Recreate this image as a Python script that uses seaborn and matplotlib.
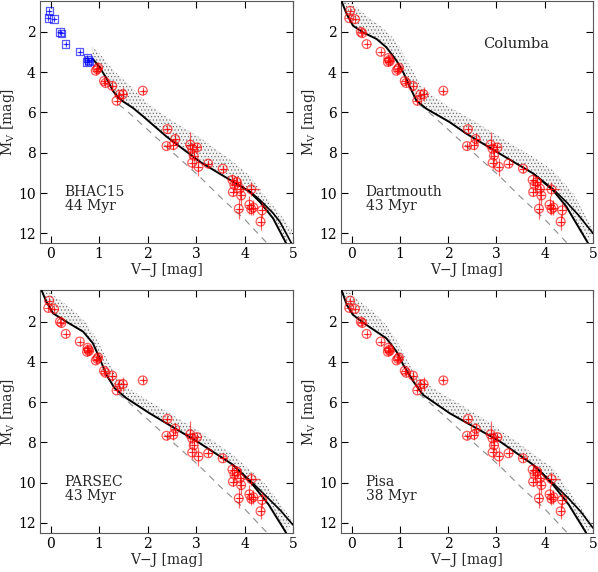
import numpy as np
import seaborn as sns
import matplotlib
matplotlib.use("Agg")
import matplotlib.pyplot as plt

# observed Columba members: V-J, M_V and errors
star_vj = [-0.03, -0.05, 0.07, 0.19, 0.22, 0.31, 0.60, 0.76, 0.78, 0.75, 0.79,
           0.93, 0.98, 0.96, 1.10, 1.13, 1.27, 1.36, 1.42, 1.49, 1.90,
           2.41, 2.39, 2.53, 2.57, 2.88, 2.92, 2.95, 2.92, 3.02, 3.05, 3.25, 3.55,
           3.75, 3.79, 3.84, 3.76, 3.90, 3.93, 3.88, 4.14, 4.10, 4.14, 4.18, 4.36, 4.33]
star_mv = [0.96, 1.32, 1.37, 2.00, 2.07, 2.61, 2.99, 3.30, 3.40, 3.50, 3.46,
           3.93, 3.78, 3.85, 4.44, 4.54, 4.68, 5.42, 5.12, 5.10, 4.92,
           6.83, 7.67, 7.62, 7.32, 7.60, 7.80, 8.14, 8.50, 7.74, 8.70, 8.54, 8.79,
           9.35, 9.60, 9.45, 9.95, 9.78, 10.12, 10.78, 9.82, 10.58, 10.80, 10.72, 10.86, 11.42]
star_xerr = [0.03, 0.03, 0.03, 0.03, 0.03, 0.03, 0.03, 0.03, 0.03, 0.03, 0.03,
             0.04, 0.04, 0.04, 0.04, 0.04, 0.05, 0.04, 0.05, 0.08, 0.04,
             0.05, 0.05, 0.05, 0.06, 0.10, 0.05, 0.05, 0.05, 0.05, 0.05, 0.08, 0.06,
             0.06, 0.06, 0.06, 0.06, 0.06, 0.06, 0.06, 0.18, 0.08, 0.06, 0.06, 0.06, 0.06]
star_yerr = [0.05, 0.05, 0.05, 0.05, 0.05, 0.05, 0.05, 0.08, 0.08, 0.08, 0.08,
             0.10, 0.10, 0.10, 0.10, 0.10, 0.25, 0.10, 0.20, 0.35, 0.10,
             0.10, 0.10, 0.25, 0.30, 0.65, 0.30, 0.30, 0.30, 0.15, 0.45, 0.15, 0.15,
             0.30, 0.40, 0.30, 0.20, 0.50, 0.45, 0.50, 0.35, 0.45, 0.30, 0.35, 0.40, 0.40]

# dashed reference sequence
ref_vj = [1.40, 1.56, 2.00, 2.50, 3.08, 3.50, 4.00, 4.47]
ref_mv = [5.60, 5.90, 6.85, 7.95, 9.20, 10.20, 11.30, 12.50]

models = ["BHAC15", "Dartmouth", "PARSEC", "Pisa"]
ages = ["44 Myr", "43 Myr", "43 Myr", "38 Myr"]

# isochrone (lower edge of the binary band)
iso_vj = {
    "BHAC15": [0.87, 1.01, 1.15, 1.29, 1.39, 1.49, 1.70, 1.91, 2.39, 3.08, 3.77, 4.11, 4.32, 4.59, 4.86],
    "Dartmouth": [-0.21, -0.10, 0.03, 0.24, 0.52, 0.72, 0.93, 1.07, 1.21, 1.34, 1.55, 2.03, 2.38, 3.07, 3.76, 4.17, 4.45, 4.90],
    "PARSEC": [-0.19, -0.09, 0.05, 0.32, 0.67, 0.87, 1.01, 1.15, 1.32, 1.56, 2.04, 3.07, 3.76, 4.17, 4.50, 4.86],
    "Pisa": [-0.21, -0.10, 0.03, 0.31, 0.72, 0.93, 1.07, 1.28, 1.48, 2.03, 3.07, 3.76, 4.17, 4.50, 4.86],
}
iso_mv = {
    "BHAC15": [3.35, 3.76, 4.30, 4.95, 5.25, 5.45, 5.78, 6.20, 7.20, 8.45, 9.45, 9.95, 10.45, 11.26, 12.50],
    "Dartmouth": [0.47, 1.13, 1.70, 2.03, 2.36, 2.77, 3.43, 4.01, 4.75, 5.41, 5.82, 6.48, 7.06, 8.05, 9.03, 9.86, 10.68, 12.50],
    "PARSEC": [0.43, 1.01, 1.59, 2.00, 2.50, 3.07, 3.82, 4.64, 5.31, 5.80, 6.55, 8.03, 9.11, 10.10, 11.10, 12.50],
    "Pisa": [0.43, 1.17, 1.67, 2.17, 2.83, 3.49, 4.15, 4.98, 5.64, 6.55, 7.95, 9.11, 10.10, 11.10, 12.50],
}
# second solid track at the red end
red_vj = {
    "BHAC15": [3.77, 4.11, 4.32, 4.59, 4.73, 4.97],
    "Dartmouth": [3.76, 4.17, 4.45, 4.70, 5.00],
    "PARSEC": [3.76, 4.17, 4.50, 4.75, 5.00],
    "Pisa": [3.76, 4.17, 4.50, 4.75, 5.00],
}
red_mv = {
    "BHAC15": [9.45, 9.92, 10.35, 11.00, 11.43, 12.50],
    "Dartmouth": [9.03, 9.80, 10.45, 11.10, 12.00],
    "PARSEC": [9.11, 10.02, 10.80, 11.40, 12.10],
    "Pisa": [9.11, 10.02, 10.80, 11.45, 12.25],
}
# upper edge of the simulated binary band
top_vj = {
    "BHAC15": [0.84, 1.00, 1.29, 1.63, 2.00, 2.40, 3.08, 3.77, 4.11, 4.32, 4.73, 5.00],
    "Dartmouth": [-0.21, 0.03, 0.31, 0.59, 0.79, 1.00, 1.14, 1.28, 1.41, 1.62, 2.03, 2.52, 3.07, 3.76, 4.17, 4.59, 5.00],
    "PARSEC": [-0.09, 0.19, 0.46, 0.74, 0.94, 1.08, 1.22, 1.42, 1.70, 2.39, 3.07, 3.76, 4.45, 5.00],
    "Pisa": [-0.10, 0.17, 0.45, 0.72, 0.93, 1.07, 1.28, 1.48, 2.03, 2.72, 3.41, 4.17, 5.00],
}
top_mv = {
    "BHAC15": [2.70, 3.05, 3.90, 4.65, 5.55, 6.25, 7.25, 8.45, 9.15, 9.85, 11.05, 11.92],
    "Dartmouth": [0.47, 0.63, 1.21, 1.70, 2.12, 2.77, 3.43, 4.00, 4.59, 5.08, 5.74, 6.40, 7.22, 8.21, 8.87, 10.02, 11.84],
    "PARSEC": [0.43, 0.93, 1.42, 2.08, 2.83, 3.49, 4.15, 4.89, 5.47, 6.46, 7.45, 8.61, 10.10, 11.92],
    "Pisa": [0.43, 1.01, 1.50, 2.17, 2.91, 3.57, 4.48, 4.98, 5.80, 6.79, 7.95, 9.28, 12.08],
}

sns.set_style("ticks")
plt.rcParams["font.family"] = ["DejaVu Serif"]
plt.rcParams["mathtext.fontset"] = "dejavuserif"
plt.rcParams["hatch.linewidth"] = 0.45

fig = plt.figure(figsize=(5.98, 5.72), dpi=100)
boxes = [(40, 1, 253, 242), (341, 1, 252, 242), (40, 290, 253, 243), (341, 290, 252, 243)]

for i, name in enumerate(models):
    l, t, w, h = boxes[i]
    ax = fig.add_axes([l / 598, 1 - (t + h) / 572, w / 598, h / 572])

    band_x = top_vj[name] + iso_vj[name][::-1]
    band_y = top_mv[name] + iso_mv[name][::-1]
    ax.fill(band_x, band_y, facecolor="0.95", edgecolor="0.4", hatch=".....", lw=0, zorder=1)

    sns.lineplot(x=iso_vj[name], y=iso_mv[name], sort=False, estimator=None,
                 color="k", lw=1.4, ax=ax, zorder=3)
    sns.lineplot(x=red_vj[name], y=red_mv[name], sort=False, estimator=None,
                 color="k", lw=1.2, ax=ax, zorder=3)
    sns.lineplot(x=ref_vj, y=ref_mv, sort=False, estimator=None,
                 color="0.55", lw=0.8, dashes=(6, 5), ax=ax, zorder=2)

    vj = np.array(star_vj)
    mv = np.array(star_mv)
    xe = np.array(star_xerr)
    ye = np.array(star_yerr)
    if name == "BHAC15":
        blue = vj < iso_vj[name][0] - 0.02
    else:
        blue = np.zeros(len(vj), bool)
    red = ~blue

    ax.errorbar(vj[red], mv[red], xerr=xe[red], yerr=ye[red], fmt="none",
                ecolor="red", elinewidth=0.9, alpha=0.6, zorder=4)
    sns.scatterplot(x=vj[red], y=mv[red], marker="o", s=40, facecolor="none",
                    edgecolor="red", linewidth=0.9, alpha=0.65, ax=ax, zorder=5)
    sns.scatterplot(x=vj[red], y=mv[red], marker="+", s=32, color="red",
                    linewidth=0.8, alpha=0.65, ax=ax, zorder=5)
    if blue.any():
        ax.errorbar(vj[blue], mv[blue], xerr=xe[blue], yerr=ye[blue], fmt="none",
                    ecolor="blue", elinewidth=0.9, alpha=0.6, zorder=4)
        sns.scatterplot(x=vj[blue], y=mv[blue], marker="s", s=28, facecolor="none",
                        edgecolor="blue", linewidth=0.9, alpha=0.65, ax=ax, zorder=5)
        sns.scatterplot(x=vj[blue], y=mv[blue], marker="+", s=22, color="blue",
                        linewidth=0.8, alpha=0.65, ax=ax, zorder=5)

    ax.text(0.29, 9.62, name + "\n" + ages[i], ha="left", va="top",
            fontsize=10, linespacing=1.0)
    if name == "Dartmouth":
        ax.text(2.72, 2.6, "Columba", ha="left", va="center", fontsize=10.5)

    ax.set_xlim(-0.22, 5.0)
    if i < 2:
        ax.set_ylim(12.48, 0.47)
    else:
        ax.set_ylim(12.5, 0.43)
    ax.set_xticks([0, 1, 2, 3, 4, 5])
    ax.set_yticks([2, 4, 6, 8, 10, 12])
    ax.tick_params(direction="in", top=True, right=True, length=5, width=0.8,
                   labelsize=10, pad=3, colors="k")
    for s in ax.spines.values():
        s.set_linewidth(0.8)
        s.set_color("0.35")
    ax.set_xlabel("V\u2212J [mag]", fontsize=10, labelpad=1)
    ax.set_ylabel("M$_\\mathregular{V}$ [mag]", fontsize=10, labelpad=1)

fig.savefig("out.png", dpi=100)
